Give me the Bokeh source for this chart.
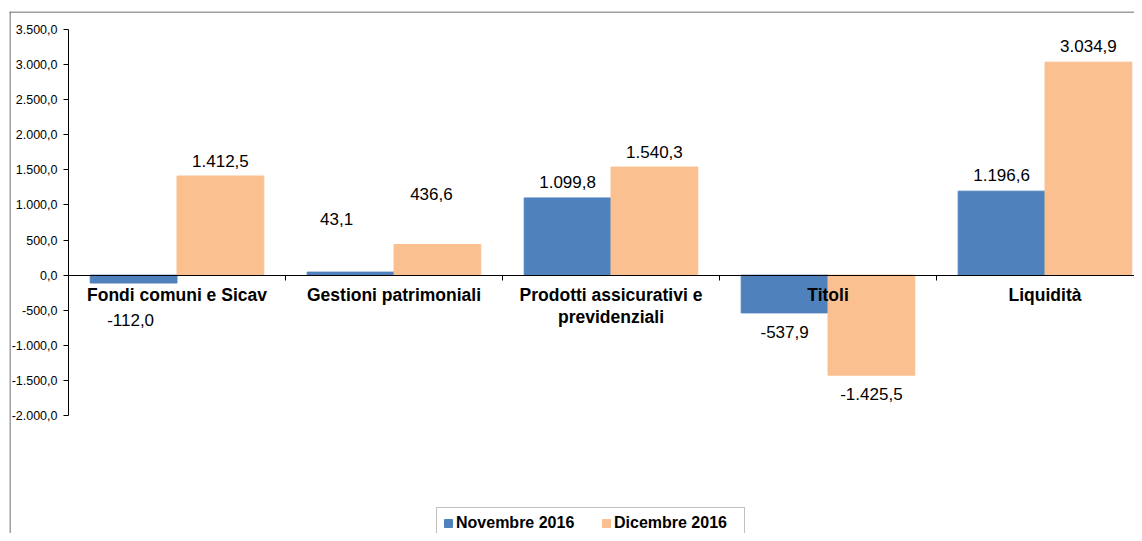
from bokeh.plotting import figure
from bokeh.models import Range1d, FixedTicker, ColumnDataSource, Legend, LegendItem, Span
from bokeh.core.properties import value
from bokeh.embed import file_html
from bokeh.resources import INLINE

# ---- data ----
categories = ["Fondi comuni e Sicav", "Gestioni patrimoniali",
              "Prodotti assicurativi e\nprevidenziali", "Titoli", "Liquidità"]
novembre_2016 = [-112.0, 43.1, 1099.8, -537.9, 1196.6]
dicembre_2016 = [1412.5, 436.6, 1540.3, -1425.5, 3034.9]
series_names = ["Novembre 2016", "Dicembre 2016"]
y_ticks = [-2000, -1500, -1000, -500, 0, 500, 1000, 1500, 2000, 2500, 3000, 3500]

# ---- label placement (pixels) ----
nov_dx = [-3, -14, 0, 0, 0]
nov_dy = [37, -53, -15.5, 19, -16]
dic_dx = [0, -6, 0, 0, 0]
dic_dy = [-15, -50, -15.5, 19, -16.5]

BLUE = "#4F81BD"
ORANGE = "#FAC090"
FONT = "Liberation Sans"
BORDER = "#404040"

# ---- layout (pixels) ----
W, H = 1134, 533
FRAME_L, FRAME_T = 9, 11          # outer chart box
AXIS_X, TOP_Y = 68, 29            # y axis position, y of the top tick
CAT_PX = 217                      # width of one category
Y_PX = 386 / 5500                 # pixels per unit

y_min, y_max = min(y_ticks), max(y_ticks)
x_start = -(AXIS_X - FRAME_L) / CAT_PX
x_end = (W - AXIS_X) / CAT_PX
y_end = y_max + (TOP_Y - FRAME_T) / Y_PX
y_start = y_max - (H - TOP_Y) / Y_PX


def fmt_it(v):
    s = f"{v:,.1f}"
    return s.replace(",", "X").replace(".", ",").replace("X", ".")


n = len(categories)
x_nov = [i + 0.3 for i in range(n)]
x_dic = [i + 0.7 for i in range(n)]
x_cat = [i + 0.5 for i in range(n)]

p = figure(width=W, height=H, output_backend="svg", toolbar_location=None,
           x_range=Range1d(x_start, x_end), y_range=Range1d(y_start, y_end),
           min_border_left=FRAME_L, min_border_right=0, min_border_top=FRAME_T,
           min_border_bottom=0)
p.outline_line_color = None
p.grid.visible = False
p.background_fill_color = "white"
p.border_fill_color = "white"

# outer chart border (left and top visible in the reference)
p.add_layout(Span(location=x_start + 0.5 / CAT_PX, dimension="height",
                  line_color=BORDER, line_width=1))
p.add_layout(Span(location=y_end - 0.5 / Y_PX, dimension="width",
                  line_color=BORDER, line_width=1))

src_nov = ColumnDataSource(dict(x=x_nov, top=novembre_2016,
                                lbl=[fmt_it(v) for v in novembre_2016],
                                dx=nov_dx, dy=nov_dy))
src_dic = ColumnDataSource(dict(x=x_dic, top=dicembre_2016,
                                lbl=[fmt_it(v) for v in dicembre_2016],
                                dx=dic_dx, dy=dic_dy))

r_nov = p.vbar(x="x", top="top", bottom=0, width=0.4, source=src_nov,
               fill_color=BLUE, line_color=BLUE)
r_dic = p.vbar(x="x", top="top", bottom=0, width=0.4, source=src_dic,
               fill_color=ORANGE, line_color=ORANGE)

for src in (src_nov, src_dic):
    p.text(x="x", y="top", text="lbl", source=src, x_offset="dx", y_offset="dy",
           text_font=value(FONT), text_font_size="17px", text_color="#000000",
           text_align="center", text_baseline="middle")

# category labels along the zero line
src_cat = ColumnDataSource(dict(x=x_cat, y=[0] * n, t=categories))
p.text(x="x", y="y", text="t", source=src_cat, y_offset=10,
       text_font=value(FONT), text_font_size="17.5px", text_font_style="bold",
       text_color="#000000", text_align="center", text_baseline="top",
       text_line_height=1.1)

# x axis at zero (ticks between categories, no labels)
x_ticks = list(range(1, n))
xa = p.xaxis[0]
xa.fixed_location = 0
xa.bounds = (0, x_end)
xa.ticker = FixedTicker(ticks=x_ticks)
xa.major_label_overrides = {t: "" for t in x_ticks}
xa.major_tick_out = 5
xa.major_tick_in = 0
xa.minor_tick_line_color = None
xa.axis_line_color = "#000000"
xa.major_tick_line_color = "#000000"

# y axis
ya = p.yaxis[0]
ya.fixed_location = 0
ya.bounds = (y_min, y_max)
ya.ticker = FixedTicker(ticks=y_ticks)
ya.major_label_overrides = {t: fmt_it(t) for t in y_ticks}
ya.major_label_text_font = FONT
ya.major_label_text_font_size = "12.5px"
ya.major_label_text_color = "#000000"
ya.major_label_standoff = 6
ya.major_tick_out = 5
ya.major_tick_in = 0
ya.minor_tick_line_color = None
ya.axis_line_color = "#000000"
ya.major_tick_line_color = "#000000"

legend = Legend(items=[LegendItem(label=series_names[0], renderers=[r_nov]),
                       LegendItem(label=series_names[1], renderers=[r_dic])],
                orientation="horizontal", location=(427, -6),
                glyph_width=10, glyph_height=10, label_standoff=3, spacing=21,
                label_width=124, padding=6, margin=0,
                label_text_font=FONT, label_text_font_size="16px",
                label_text_font_style="bold", label_text_color="#000000",
                border_line_color="#808080", border_line_width=1,
                background_fill_color="white", background_fill_alpha=1)
p.add_layout(legend, "center")

open("out.html", "w").write(file_html(p, INLINE))
